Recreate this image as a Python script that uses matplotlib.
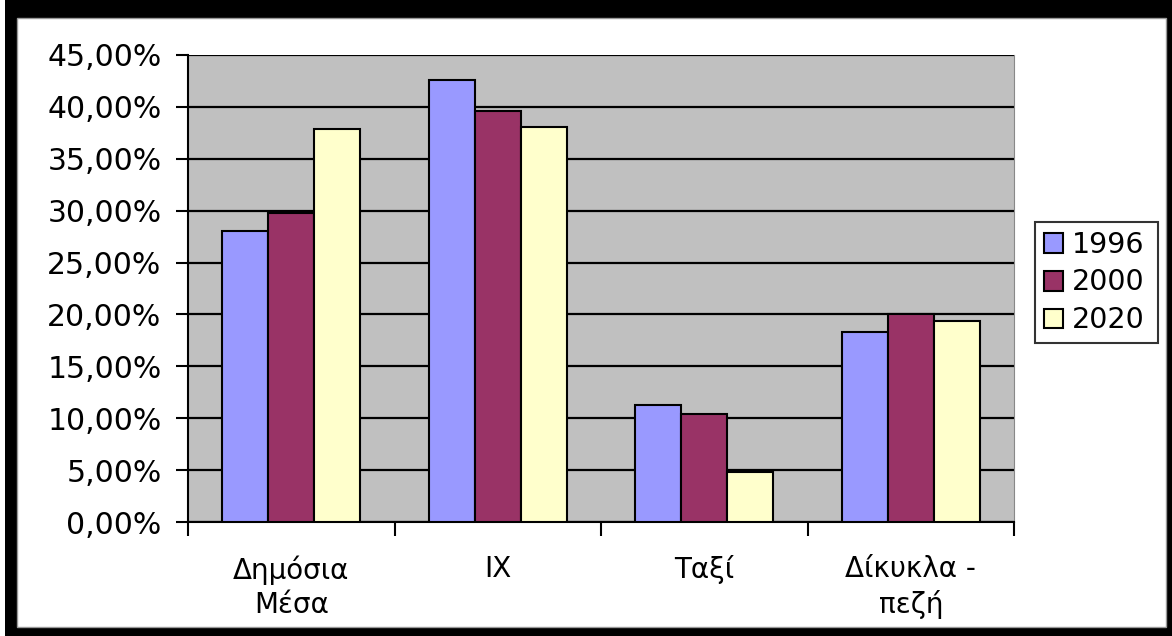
import matplotlib.pyplot as plt
import numpy as np
from matplotlib.patches import Rectangle
from matplotlib.ticker import FuncFormatter, MultipleLocator

categories = ["Δημόσια\nΜέσα", "ΙΧ", "Ταξί", "Δίκυκλα -\nπεζή"]
years = ["1996", "2000", "2020"]
share_1996 = [28.0, 42.6, 11.3, 18.3]
share_2000 = [29.8, 39.6, 10.4, 20.0]
share_2020 = [37.9, 38.1, 4.8, 19.4]
colors = ["#9999FF", "#993366", "#FFFFCC"]

fig = plt.figure(figsize=(11.72, 6.36), dpi=100)
# thick black frame round the chart, as in the original screenshot
fig.patches.append(Rectangle((5 / 1172, 0), 1167 / 1172, 1, transform=fig.transFigure,
                             facecolor="black", edgecolor="none", zorder=-2))
fig.patches.append(Rectangle((17 / 1172, 9 / 636), (1166 - 17) / 1172, (627 - 18) / 636,
                             transform=fig.transFigure, facecolor="white",
                             edgecolor="#999999", linewidth=1, zorder=-1))

ax = fig.add_axes([188 / 1172, 1 - 522 / 636, (1014 - 188) / 1172, (522 - 55) / 636])
ax.set_facecolor("#C0C0C0")

x = np.arange(len(categories))
w = 1 / 4.5
for i, (vals, yr) in enumerate(zip([share_1996, share_2000, share_2020], years)):
    ax.bar(x + (i - 1) * w, vals, width=w, color=colors[i], edgecolor="black",
           linewidth=1.5, label=yr, zorder=3)

ax.set_xlim(-0.5, len(categories) - 0.5)
ax.set_ylim(0, 45)
ax.yaxis.set_major_locator(MultipleLocator(5))
ax.yaxis.set_major_formatter(FuncFormatter(lambda v, p: f"{v:.2f}%".replace(".", ",")))
ax.grid(axis="y", color="black", linewidth=1.6, zorder=1)

ax.set_xticks(np.arange(len(categories) + 1) - 0.5)
ax.set_xticklabels([])
ax.set_xticks(x, minor=True)
ax.set_xticklabels(categories, minor=True, fontsize=20, linespacing=1.3)
ax.tick_params(axis="x", which="major", length=10, width=1.5, direction="out")
ax.tick_params(axis="x", which="minor", length=0, pad=24)
ax.tick_params(axis="y", length=9, width=1.5, direction="out", labelsize=21.5, pad=10)

ax.spines["top"].set_visible(False)
ax.spines["right"].set_color("#888888")
ax.spines["left"].set_linewidth(1.5)
ax.spines["bottom"].set_linewidth(1.5)

leg = ax.legend(loc="center left", bbox_to_anchor=(1035 / 1172, 1 - 346 / 636, 123 / 1172, 127 / 636),
                bbox_transform=fig.transFigure, fontsize=20.5, frameon=True, fancybox=False,
                handlelength=0.7, handleheight=0.7, handletextpad=0.3, borderpad=0.3,
                labelspacing=0.35, borderaxespad=0, mode="expand")
leg.get_frame().set_edgecolor("black")
leg.get_frame().set_linewidth(1.5)

fig.savefig("out.png", dpi=100)
